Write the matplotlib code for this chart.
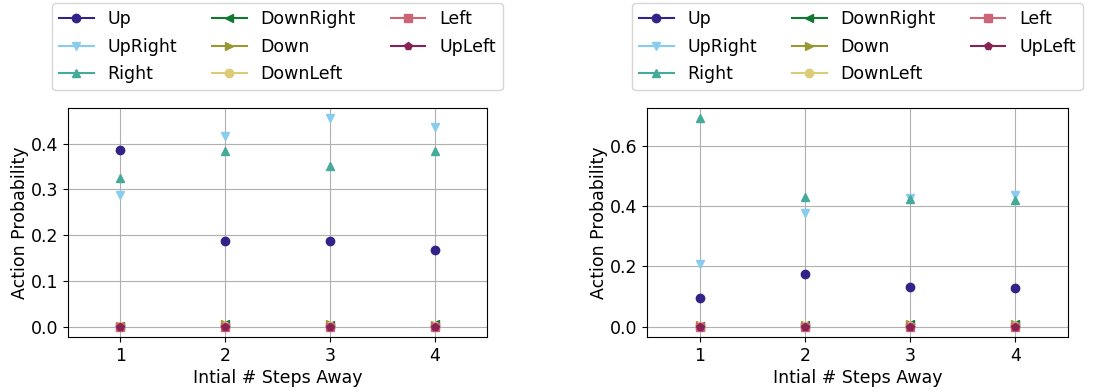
import numpy as np
import matplotlib
matplotlib.use("Agg")
import matplotlib.pyplot as plt
from matplotlib.lines import Line2D

steps = [1, 2, 3, 4]
actions = ["Up", "UpRight", "Right", "DownRight", "Down", "DownLeft", "Left", "UpLeft"]
colors = ["#332288", "#88CCEE", "#44AA99", "#117733", "#999933", "#DDCC77", "#CC6677", "#882255"]
markers = ["o", "v", "^", "<", ">", "o", "s", "p"]

# left panel
left_up = [0.387, 0.188, 0.186, 0.168]
left_upright = [0.287, 0.416, 0.455, 0.436]
left_right = [0.325, 0.384, 0.351, 0.384]
left_downright = [0.002, 0.005, 0.004, 0.005]
left_down = [0.001, 0.006, 0.005, 0.004]
left_downleft = [0.001, 0.002, 0.002, 0.002]
left_left = [0.0, 0.0, 0.0, 0.0]
left_upleft = [0.0, 0.0, 0.0, 0.0]

# right panel
right_up = [0.095, 0.176, 0.130, 0.128]
right_upright = [0.208, 0.378, 0.428, 0.436]
right_right = [0.692, 0.431, 0.425, 0.420]
right_downright = [0.003, 0.005, 0.007, 0.007]
right_down = [0.004, 0.006, 0.010, 0.010]
right_downleft = [0.002, 0.003, 0.003, 0.003]
right_left = [0.0, 0.0, 0.0, 0.0]
right_upleft = [0.0, 0.0, 0.0, 0.0]

left_data = [left_up, left_upright, left_right, left_downright,
             left_down, left_downleft, left_left, left_upleft]
right_data = [right_up, right_upright, right_right, right_downright,
              right_down, right_downleft, right_left, right_upleft]

plt.rcParams["font.size"] = 12.5

fig = plt.figure(figsize=(11.18, 3.92), dpi=100)
ax1 = fig.add_axes([68 / 1118, 1 - 337 / 392, 419 / 1118, 229 / 392])
ax2 = fig.add_axes([647 / 1118, 1 - 337 / 392, 421 / 1118, 229 / 392])

for ax, data in [(ax1, left_data), (ax2, right_data)]:
    for vals, c, m in zip(data, colors, markers):
        ax.plot(steps, vals, linestyle="none", marker=m, color=c, markersize=6)
    ax.set_xlim(0.5, 4.5)
    ax.set_xticks(steps)
    ax.grid(True)
    ax.set_axisbelow(True)
    ax.set_xlabel("Intial # Steps Away", labelpad=3)
    ax.set_ylabel("Action Probability", labelpad=1)
    handles = [Line2D([], [], color=c, marker=m, markersize=6, label=a)
               for a, c, m in zip(actions, colors, markers)]
    ax.legend(handles=handles, loc="lower center", bbox_to_anchor=(0.5, 1.04),
              ncol=3, handletextpad=0.8, columnspacing=2.0,
              borderpad=0.4, labelspacing=0.55)

ax1.set_yticks([0.0, 0.1, 0.2, 0.3, 0.4])
ax2.set_yticks([0.0, 0.2, 0.4, 0.6])

fig.savefig("out.png", dpi=100)
